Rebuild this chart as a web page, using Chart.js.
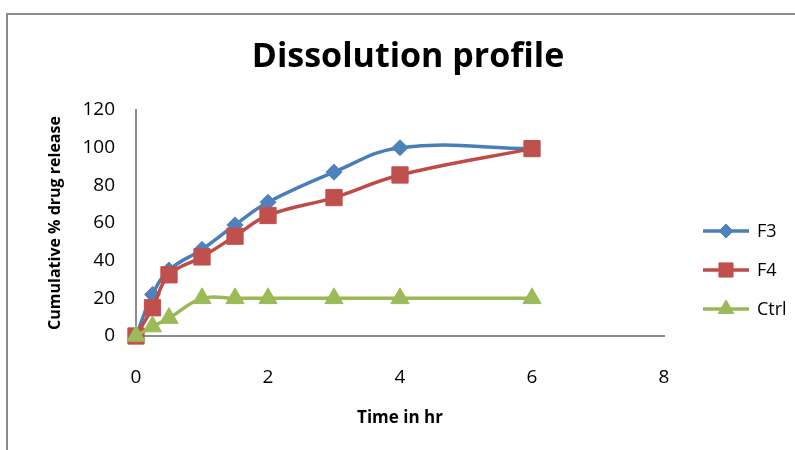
<!DOCTYPE html>
<html>
<head>
<meta charset="utf-8">
<title>Dissolution profile</title>
<script src="https://cdn.jsdelivr.net/npm/chart.js@4/dist/chart.umd.min.js"></script>
<style>
  html, body { margin: 0; padding: 0; background: #ffffff; }
  #wrap { width: 795px; height: 450px; }
</style>
</head>
<body>
<div id="wrap"><canvas id="dissolutionChart" width="795" height="450"></canvas></div>
<script>
// sampling times (hr) and % released for each batch
const TIMES = [0, 0.25, 0.5, 1, 1.5, 2, 3, 4, 6];
const F3_RELEASE = [0, 22, 35, 46, 59, 71, 87, 100, 99.5];
const F4_RELEASE = [0, 15, 32.5, 42, 53, 64, 73.5, 85.5, 99.5];
const CTRL_RELEASE = [0, 5, 9.5, 20, 20, 20, 20, 20, 20];

const SERIES_NAMES = ["F3", "F4", "Ctrl"];
const X_TICKS = [0, 2, 4, 6, 8];
const Y_TICKS = [0, 20, 40, 60, 80, 100, 120];

const FONT = "'Open Sans', 'Liberation Sans', sans-serif";

const seriesStyles = [
  { color: "#4a7ebb", marker: "#4f81bd", pointStyle: "rectRot", radius: 8, legendRadius: 7 },
  { color: "#be4b48", marker: "#c0504d", pointStyle: "rect", radius: 11.5, legendRadius: 10 },
  { color: "#98b954", marker: "#9bbb59", pointStyle: "triangle", radius: 10.5, legendRadius: 9 }
];

function toPoints(values) {
  return values.map((v, i) => ({ x: TIMES[i], y: v }));
}

function makeDataset(index, values) {
  const style = seriesStyles[index];
  return {
    label: SERIES_NAMES[index],
    data: toPoints(values),
    // later series sit on top of earlier ones
    order: SERIES_NAMES.length - index,
    borderColor: style.color,
    backgroundColor: style.marker,
    borderWidth: 3.5,
    tension: 0.4,
    clip: false,
    pointStyle: style.pointStyle,
    pointRadius: style.radius,
    pointHoverRadius: style.radius,
    pointBackgroundColor: style.marker,
    pointBorderColor: style.marker,
    pointBorderWidth: 1
  };
}

// frame, title and the line+marker legend on the right
const chartDecor = {
  id: "chartDecor",
  beforeDraw(chart) {
    const ctx = chart.ctx;
    ctx.save();
    ctx.strokeStyle = "#8c8c8c";
    ctx.lineWidth = 2;
    ctx.beginPath();
    ctx.moveTo(7, 450);
    ctx.lineTo(7, 14);
    ctx.lineTo(795, 14);
    ctx.stroke();
    ctx.restore();
  },
  afterDraw(chart) {
    const ctx = chart.ctx;
    ctx.save();
    ctx.fillStyle = "#000000";
    ctx.font = `bold 34px ${FONT}`;
    ctx.textAlign = "center";
    ctx.textBaseline = "middle";
    ctx.fillText("Dissolution profile", 408, 57);

    const legendY = [231, 270, 309];
    ctx.font = `18px ${FONT}`;
    ctx.textAlign = "left";
    SERIES_NAMES.forEach((name, i) => {
      const style = seriesStyles[i];
      const y = legendY[i];
      ctx.strokeStyle = style.color;
      ctx.lineWidth = 3.5;
      ctx.beginPath();
      ctx.moveTo(703, y);
      ctx.lineTo(749, y);
      ctx.stroke();
      ctx.fillStyle = style.marker;
      ctx.strokeStyle = style.marker;
      ctx.lineWidth = 1;
      Chart.helpers.drawPoint(ctx, {
        pointStyle: style.pointStyle,
        radius: style.legendRadius,
        rotation: 0,
        borderWidth: 1
      }, 726, y);
      ctx.fillStyle = "#000000";
      ctx.textBaseline = "middle";
      ctx.fillText(name, 757, y + 1);
    });
    ctx.restore();
  }
};

Chart.defaults.font.family = FONT;
Chart.defaults.color = "#000000";

new Chart(document.getElementById("dissolutionChart"), {
  type: "line",
  data: {
    datasets: [
      makeDataset(0, F3_RELEASE),
      makeDataset(1, F4_RELEASE),
      makeDataset(2, CTRL_RELEASE)
    ]
  },
  options: {
    responsive: false,
    animation: false,
    layout: { padding: { left: 40, right: 131, top: 110, bottom: 0 } },
    plugins: {
      legend: { display: false },
      title: { display: false },
      tooltip: { enabled: false }
    },
    scales: {
      x: {
        type: "linear",
        min: X_TICKS[0],
        max: X_TICKS[X_TICKS.length - 1],
        afterBuildTicks: scale => { scale.ticks = X_TICKS.map(v => ({ value: v })); },
        grid: { display: false, drawTicks: false },
        border: { display: true, color: "#8c8c8c", width: 2 },
        ticks: { font: { size: 19 }, padding: 30, color: "#000000" },
        title: {
          display: true,
          text: "Time in hr",
          font: { size: 17, weight: "bold" },
          padding: { top: 0, bottom: 22 }
        },
        afterFit: scale => { scale.height = 114; }
      },
      y: {
        min: Y_TICKS[0],
        max: Y_TICKS[Y_TICKS.length - 1],
        afterBuildTicks: scale => { scale.ticks = Y_TICKS.map(v => ({ value: v })); },
        grid: { display: false, drawTicks: false },
        border: { display: true, color: "#8c8c8c", width: 2 },
        ticks: { font: { size: 19 }, padding: 21, color: "#000000" },
        title: {
          display: true,
          text: "Cumulative % drug release",
          font: { size: 16, weight: "bold" },
          padding: { top: 6, bottom: 0 }
        },
        afterFit: scale => { scale.width = 96; }
      }
    }
  },
  plugins: [chartDecor]
});
</script>
</body>
</html>
